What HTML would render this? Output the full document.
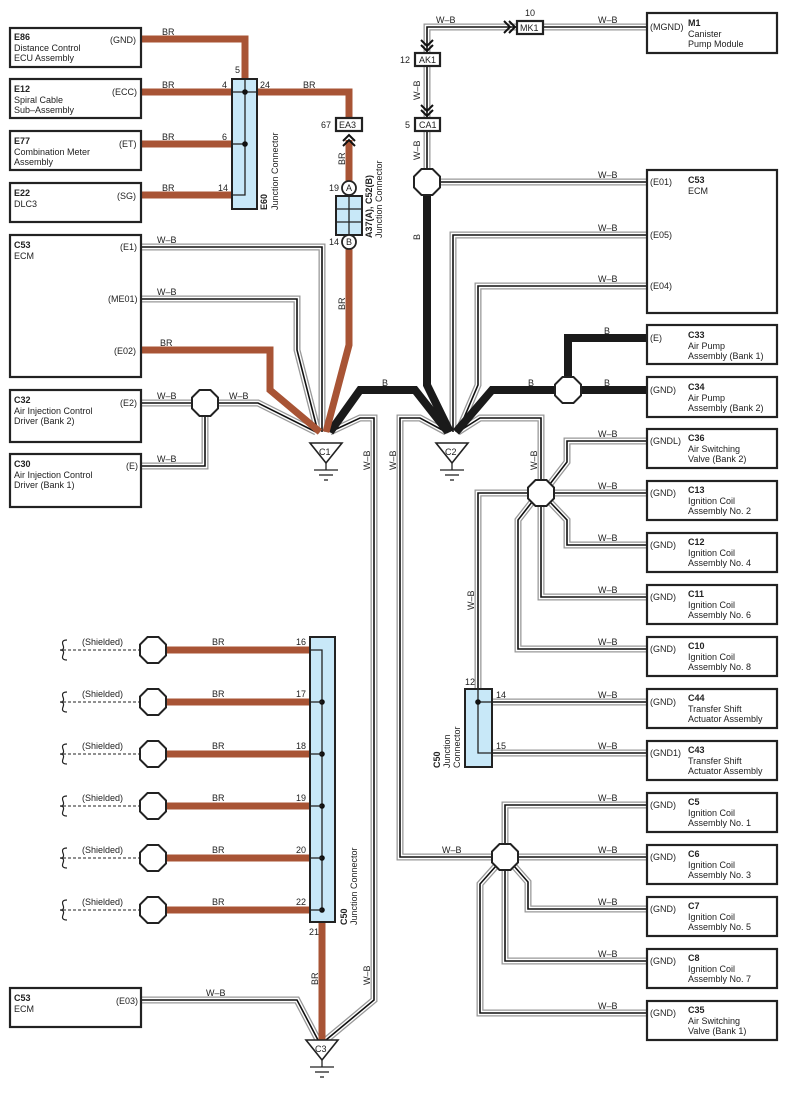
<!DOCTYPE html>
<html><head><meta charset="utf-8"><style>
html,body{margin:0;padding:0;background:#fff}
svg{display:block}
text{font-family:"Liberation Sans",sans-serif;font-size:9px;fill:#222}
.b{font-weight:bold}
.box{fill:#fff;stroke:#222;stroke-width:2.2}
.g1{fill:none;stroke:#999;stroke-width:7;stroke-linejoin:miter}
.g2{fill:none;stroke:#fff;stroke-width:4.4}
.g3{fill:none;stroke:#111;stroke-width:1.6}
.br{fill:none;stroke:#a85435;stroke-width:7}
.bk{fill:none;stroke:#1a1a1a;stroke-width:8}
.oct{fill:#fff;stroke:#222;stroke-width:2}
.jc{fill:#c8e8f8;stroke:#222;stroke-width:2}
.ln{fill:none;stroke:#222;stroke-width:1.3}
</style></head><body>
<svg width="787" height="1093" viewBox="0 0 787 1093" xmlns="http://www.w3.org/2000/svg">
<defs>
<polygon id="oc" points="-5.5,-13 5.5,-13 13,-5.5 13,5.5 5.5,13 -5.5,13 -13,5.5 -13,-5.5"/>
<g id="gnd"><polygon points="-16,0 16,0 0,20" fill="#fff" stroke="#222" stroke-width="1.6"/><line x1="0" y1="20" x2="0" y2="27" stroke="#222" stroke-width="1.3"/><line x1="-12" y1="27" x2="12" y2="27" stroke="#222" stroke-width="1.3"/><line x1="-7" y1="32" x2="7" y2="32" stroke="#222" stroke-width="1.3"/><line x1="-2" y1="37" x2="2" y2="37" stroke="#222" stroke-width="1.3"/></g>
<g id="wires">
<polyline points="141,247 322,247 322,432"/>
<polyline points="141,299 297,299 297,350 318,432"/>
<polyline points="141,403 192,403"/>
<polyline points="218,403 258,403 316,432"/>
<polyline points="141,466 205,466 205,416"/>
<polyline points="330,432 360,418 374,418 374,1000 326,1040"/>
<polyline points="141,1000 297,1000 318,1040"/>
<polyline points="446,432 420,418 400,418 400,857 492,857"/>
<polyline points="458,432 480,418 541,418 541,480"/>
<polyline points="648,235 453,235 453,432"/>
<polyline points="648,286 478,286 478,385 458,432"/>
<polyline points="427,130 427,169"/>
<polyline points="440,182 648,182"/>
<polyline points="427,53 427,27 517,27"/>
<polyline points="543,27 648,27"/>
<polyline points="427,65 427,118"/>
<polyline points="550,484 567,462 567,441 648,441"/>
<polyline points="554,493 648,493"/>
<polyline points="550,502 567,520 567,545 648,545"/>
<polyline points="541,506 541,597 648,597"/>
<polyline points="532,502 518,520 518,649 648,649"/>
<polyline points="528,493 478,493 478,689"/>
<polyline points="492,702 648,702"/>
<polyline points="492,753 648,753"/>
<polyline points="505,844 505,805 648,805"/>
<polyline points="518,857 648,857"/>
<polyline points="514,866 528,882 528,909 648,909"/>
<polyline points="505,870 505,961 648,961"/>
<polyline points="496,866 480,884 480,1013 648,1013"/>
</g>
</defs>
<use href="#wires" class="g1"/>
<use href="#wires" class="g2"/>
<use href="#wires" class="g3"/>

<!-- black B -->
<polyline class="bk" points="427,195 427,385 450,432"/>
<polyline class="bk" points="330,432 360,390 415,390 448,432"/>
<polyline class="bk" points="648,390 492,390 456,432"/>
<polyline class="bk" points="648,338 568,338 568,380"/>

<!-- brown -->
<polyline class="br" points="141,39 245,39 245,80"/>
<polyline class="br" points="141,92 232,92"/>
<polyline class="br" points="141,144 232,144"/>
<polyline class="br" points="141,195 232,195"/>
<polyline class="br" points="257,92 349,92 349,118"/>
<polyline class="br" points="349,140 349,181"/>
<polyline class="br" points="349,246 349,345 326,432"/>
<polyline class="br" points="141,350 270,350 270,390 320,432"/>
<polyline class="br" points="166,650 310,650"/><polyline class="br" points="166,702 310,702"/>
<polyline class="br" points="166,754 310,754"/><polyline class="br" points="166,806 310,806"/>
<polyline class="br" points="166,858 310,858"/><polyline class="br" points="166,910 310,910"/>
<polyline class="br" points="322,922 322,1040"/>

<!-- chevrons -->
<g fill="none" stroke="#111" stroke-width="2">
<polyline points="421,40 427,46 433,40"/><polyline points="421,45 427,51 433,45"/>
<polyline points="421,105 427,111 433,105"/><polyline points="421,110 427,116 433,110"/>
<polyline points="504,21 510,27 504,33"/><polyline points="509,21 515,27 509,33"/>
<polyline points="343,141 349,135 355,141"/><polyline points="343,146 349,140 355,146"/>
</g>

<!-- connector boxes -->
<rect x="415" y="53" width="25" height="13" class="box" stroke-width="1.8"/><text x="419" y="63">AK1</text><text x="400" y="63">12</text>
<rect x="415" y="118" width="25" height="13" class="box" stroke-width="1.8"/><text x="419" y="128">CA1</text><text x="405" y="128">5</text>
<rect x="517" y="21" width="26" height="13" class="box" stroke-width="1.8"/><text x="520" y="31">MK1</text><text x="525" y="16">10</text>
<rect x="336" y="118" width="26" height="13" class="box" stroke-width="1.8"/><text x="339" y="128">EA3</text><text x="321" y="128">67</text>

<!-- E60 -->
<rect x="232" y="79" width="25" height="130" class="jc"/>
<polyline class="ln" points="245,79 245,195 232,195"/>
<line class="ln" x1="232" y1="92" x2="257" y2="92"/><line class="ln" x1="232" y1="144" x2="245" y2="144"/>
<circle cx="245" cy="92" r="2.8" fill="#111"/><circle cx="245" cy="144" r="2.8" fill="#111"/>
<text x="235" y="73">5</text><text x="222" y="88">4</text><text x="260" y="88">24</text><text x="222" y="140">6</text><text x="218" y="191">14</text>
<text transform="translate(267,210) rotate(-90)" class="b">E60</text>
<text transform="translate(278,210) rotate(-90)">Junction Connector</text>

<!-- A37 -->
<rect x="336" y="196" width="26" height="39" class="jc"/>
<line class="ln" x1="349" y1="196" x2="349" y2="235"/><line class="ln" x1="336" y1="209" x2="362" y2="209"/><line class="ln" x1="336" y1="222" x2="362" y2="222"/>
<circle cx="349" cy="188" r="7" fill="#fff" stroke="#222" stroke-width="1.8"/><text x="346" y="191">A</text>
<circle cx="349" cy="242" r="7" fill="#fff" stroke="#222" stroke-width="1.8"/><text x="346" y="245">B</text>
<text x="329" y="191">19</text><text x="329" y="245">14</text>
<text transform="translate(372,238) rotate(-90)" class="b">A37(A), C52(B)</text>
<text transform="translate(382,238) rotate(-90)">Junction Connector</text>

<!-- bottom C50 -->
<rect x="310" y="637" width="25" height="285" class="jc"/>
<polyline class="ln" points="310,650 322,650 322,910"/>
<g fill="#111"><circle cx="322" cy="702" r="2.8"/><circle cx="322" cy="754" r="2.8"/><circle cx="322" cy="806" r="2.8"/><circle cx="322" cy="858" r="2.8"/><circle cx="322" cy="910" r="2.8"/></g>
<g class="ln"><line x1="310" y1="702" x2="322" y2="702"/><line x1="310" y1="754" x2="322" y2="754"/><line x1="310" y1="806" x2="322" y2="806"/><line x1="310" y1="858" x2="322" y2="858"/><line x1="310" y1="910" x2="322" y2="910"/></g>
<text x="296" y="645">16</text><text x="296" y="697">17</text><text x="296" y="749">18</text><text x="296" y="801">19</text><text x="296" y="853">20</text><text x="296" y="905">22</text><text x="309" y="935">21</text>
<text transform="translate(347,925) rotate(-90)" class="b">C50</text>
<text transform="translate(357,925) rotate(-90)">Junction Connector</text>

<!-- shielded rows -->
<g>
<g transform="translate(0,650)"><path d="M67,-10 q-6,0 -4,5 q2,5 -3,5 q5,0 3,5 q-2,5 4,5" fill="none" stroke="#222" stroke-width="1.2"/><line x1="63" y1="0" x2="140" y2="0" stroke="#222" stroke-dasharray="3,2"/><text x="82" y="-5">(Shielded)</text><text x="212" y="-5">BR</text><use href="#oc" x="153" class="oct"/></g>
<g transform="translate(0,702)"><path d="M67,-10 q-6,0 -4,5 q2,5 -3,5 q5,0 3,5 q-2,5 4,5" fill="none" stroke="#222" stroke-width="1.2"/><line x1="63" y1="0" x2="140" y2="0" stroke="#222" stroke-dasharray="3,2"/><text x="82" y="-5">(Shielded)</text><text x="212" y="-5">BR</text><use href="#oc" x="153" class="oct"/></g>
<g transform="translate(0,754)"><path d="M67,-10 q-6,0 -4,5 q2,5 -3,5 q5,0 3,5 q-2,5 4,5" fill="none" stroke="#222" stroke-width="1.2"/><line x1="63" y1="0" x2="140" y2="0" stroke="#222" stroke-dasharray="3,2"/><text x="82" y="-5">(Shielded)</text><text x="212" y="-5">BR</text><use href="#oc" x="153" class="oct"/></g>
<g transform="translate(0,806)"><path d="M67,-10 q-6,0 -4,5 q2,5 -3,5 q5,0 3,5 q-2,5 4,5" fill="none" stroke="#222" stroke-width="1.2"/><line x1="63" y1="0" x2="140" y2="0" stroke="#222" stroke-dasharray="3,2"/><text x="82" y="-5">(Shielded)</text><text x="212" y="-5">BR</text><use href="#oc" x="153" class="oct"/></g>
<g transform="translate(0,858)"><path d="M67,-10 q-6,0 -4,5 q2,5 -3,5 q5,0 3,5 q-2,5 4,5" fill="none" stroke="#222" stroke-width="1.2"/><line x1="63" y1="0" x2="140" y2="0" stroke="#222" stroke-dasharray="3,2"/><text x="82" y="-5">(Shielded)</text><text x="212" y="-5">BR</text><use href="#oc" x="153" class="oct"/></g>
<g transform="translate(0,910)"><path d="M67,-10 q-6,0 -4,5 q2,5 -3,5 q5,0 3,5 q-2,5 4,5" fill="none" stroke="#222" stroke-width="1.2"/><line x1="63" y1="0" x2="140" y2="0" stroke="#222" stroke-dasharray="3,2"/><text x="82" y="-5">(Shielded)</text><text x="212" y="-5">BR</text><use href="#oc" x="153" class="oct"/></g>
</g>

<!-- right C50 -->
<rect x="465" y="689" width="27" height="78" class="jc"/>
<polyline class="ln" points="478,689 478,753 492,753"/><line class="ln" x1="478" y1="702" x2="492" y2="702"/>
<circle cx="478" cy="702" r="2.8" fill="#111"/>
<text x="465" y="685">12</text><text x="496" y="698">14</text><text x="496" y="749">15</text>
<text transform="translate(440,768) rotate(-90)" class="b">C50</text>
<text transform="translate(450,768) rotate(-90)">Junction</text>
<text transform="translate(460,768) rotate(-90)">Connector</text>

<!-- octagons -->
<use href="#oc" x="205" y="403" class="oct"/>
<use href="#oc" x="427" y="182" class="oct"/>
<use href="#oc" x="568" y="390" class="oct"/>
<use href="#oc" x="541" y="493" class="oct"/>
<use href="#oc" x="505" y="857" class="oct"/>

<!-- grounds -->
<use href="#gnd" x="326" y="443"/><text x="319" y="455">C1</text>
<use href="#gnd" x="452" y="443"/><text x="445" y="455">C2</text>
<use href="#gnd" x="322" y="1040"/><text x="315" y="1052">C3</text>

<!-- wire labels -->
<text x="162" y="35">BR</text><text x="162" y="88">BR</text><text x="162" y="140">BR</text><text x="162" y="191">BR</text><text x="303" y="88">BR</text>
<text x="157" y="243">W–B</text><text x="157" y="295">W–B</text><text x="160" y="346">BR</text>
<text x="157" y="399">W–B</text><text x="229" y="399">W–B</text><text x="157" y="462">W–B</text>
<text x="382" y="386">B</text><text x="206" y="996">W–B</text>
<text x="436" y="23">W–B</text><text x="598" y="23">W–B</text>
<text x="598" y="178">W–B</text><text x="598" y="231">W–B</text><text x="598" y="282">W–B</text>
<text x="604" y="334">B</text><text x="528" y="386">B</text><text x="604" y="386">B</text>
<text x="598" y="437">W–B</text><text x="598" y="489">W–B</text><text x="598" y="541">W–B</text><text x="598" y="593">W–B</text><text x="598" y="645">W–B</text><text x="598" y="698">W–B</text><text x="598" y="749">W–B</text>
<text x="598" y="801">W–B</text><text x="598" y="853">W–B</text><text x="598" y="905">W–B</text><text x="598" y="957">W–B</text><text x="598" y="1009">W–B</text>
<text x="442" y="853">W–B</text>
<g>
<text transform="translate(345,165) rotate(-90)">BR</text>
<text transform="translate(345,310) rotate(-90)">BR</text>
<text transform="translate(420,100) rotate(-90)">W–B</text>
<text transform="translate(420,160) rotate(-90)">W–B</text>
<text transform="translate(420,240) rotate(-90)">B</text>
<text transform="translate(370,470) rotate(-90)">W–B</text>
<text transform="translate(396,470) rotate(-90)">W–B</text>
<text transform="translate(537,470) rotate(-90)">W–B</text>
<text transform="translate(474,610) rotate(-90)">W–B</text>
<text transform="translate(318,985) rotate(-90)">BR</text>
<text transform="translate(370,985) rotate(-90)">W–B</text>
</g>

<!-- left boxes -->
<rect x="10" y="28" width="131" height="39" class="box"/><text x="14" y="40" class="b">E86</text><text x="14" y="51">Distance Control</text><text x="14" y="61">ECU Assembly</text><text x="110" y="43">(GND)</text>
<rect x="10" y="79" width="131" height="39" class="box"/><text x="14" y="92" class="b">E12</text><text x="14" y="103">Spiral Cable</text><text x="14" y="113">Sub–Assembly</text><text x="112" y="95">(ECC)</text>
<rect x="10" y="131" width="131" height="39" class="box"/><text x="14" y="144" class="b">E77</text><text x="14" y="155">Combination Meter</text><text x="14" y="165">Assembly</text><text x="119" y="147">(ET)</text>
<rect x="10" y="183" width="131" height="39" class="box"/><text x="14" y="196" class="b">E22</text><text x="14" y="207">DLC3</text><text x="117" y="199">(SG)</text>
<rect x="10" y="235" width="131" height="142" class="box"/><text x="14" y="248" class="b">C53</text><text x="14" y="259">ECM</text><text x="120" y="250">(E1)</text><text x="108" y="302">(ME01)</text><text x="114" y="354">(E02)</text>
<rect x="10" y="390" width="131" height="52" class="box"/><text x="14" y="403" class="b">C32</text><text x="14" y="414">Air Injection Control</text><text x="14" y="424">Driver (Bank 2)</text><text x="120" y="406">(E2)</text>
<rect x="10" y="454" width="131" height="53" class="box"/><text x="14" y="467" class="b">C30</text><text x="14" y="478">Air Injection Control</text><text x="14" y="488">Driver (Bank 1)</text><text x="126" y="469">(E)</text>
<rect x="10" y="988" width="131" height="39" class="box"/><text x="14" y="1001" class="b">C53</text><text x="14" y="1012">ECM</text><text x="116" y="1004">(E03)</text>

<!-- right boxes -->
<rect x="647" y="13" width="130" height="40" class="box"/><text x="650" y="30">(MGND)</text><text x="688" y="26" class="b">M1</text><text x="688" y="37">Canister</text><text x="688" y="47">Pump Module</text>
<rect x="647" y="170" width="130" height="143" class="box"/><text x="650" y="185">(E01)</text><text x="688" y="183" class="b">C53</text><text x="688" y="194">ECM</text><text x="650" y="238">(E05)</text><text x="650" y="289">(E04)</text>
<rect x="647" y="325" width="130" height="39" class="box"/><text x="650" y="341">(E)</text><text x="688" y="338" class="b">C33</text><text x="688" y="349">Air Pump</text><text x="688" y="359">Assembly (Bank 1)</text>
<rect x="647" y="377" width="130" height="40" class="box"/><text x="650" y="393">(GND)</text><text x="688" y="390" class="b">C34</text><text x="688" y="401">Air Pump</text><text x="688" y="411">Assembly (Bank 2)</text>
<rect x="647" y="429" width="130" height="39" class="box"/><text x="650" y="444">(GNDL)</text><text x="688" y="441" class="b">C36</text><text x="688" y="452">Air Switching</text><text x="688" y="462">Valve (Bank 2)</text>
<rect x="647" y="481" width="130" height="39" class="box"/><text x="650" y="496">(GND)</text><text x="688" y="493" class="b">C13</text><text x="688" y="504">Ignition Coil</text><text x="688" y="514">Assembly No. 2</text>
<rect x="647" y="533" width="130" height="39" class="box"/><text x="650" y="548">(GND)</text><text x="688" y="545" class="b">C12</text><text x="688" y="556">Ignition Coil</text><text x="688" y="566">Assembly No. 4</text>
<rect x="647" y="585" width="130" height="39" class="box"/><text x="650" y="600">(GND)</text><text x="688" y="597" class="b">C11</text><text x="688" y="608">Ignition Coil</text><text x="688" y="618">Assembly No. 6</text>
<rect x="647" y="637" width="130" height="39" class="box"/><text x="650" y="652">(GND)</text><text x="688" y="649" class="b">C10</text><text x="688" y="660">Ignition Coil</text><text x="688" y="670">Assembly No. 8</text>
<rect x="647" y="689" width="130" height="39" class="box"/><text x="650" y="705">(GND)</text><text x="688" y="701" class="b">C44</text><text x="688" y="712">Transfer Shift</text><text x="688" y="722">Actuator Assembly</text>
<rect x="647" y="741" width="130" height="39" class="box"/><text x="650" y="756">(GND1)</text><text x="688" y="753" class="b">C43</text><text x="688" y="764">Transfer Shift</text><text x="688" y="774">Actuator Assembly</text>
<rect x="647" y="793" width="130" height="39" class="box"/><text x="650" y="808">(GND)</text><text x="688" y="805" class="b">C5</text><text x="688" y="816">Ignition Coil</text><text x="688" y="826">Assembly No. 1</text>
<rect x="647" y="845" width="130" height="39" class="box"/><text x="650" y="860">(GND)</text><text x="688" y="857" class="b">C6</text><text x="688" y="868">Ignition Coil</text><text x="688" y="878">Assembly No. 3</text>
<rect x="647" y="897" width="130" height="39" class="box"/><text x="650" y="912">(GND)</text><text x="688" y="909" class="b">C7</text><text x="688" y="920">Ignition Coil</text><text x="688" y="930">Assembly No. 5</text>
<rect x="647" y="949" width="130" height="39" class="box"/><text x="650" y="964">(GND)</text><text x="688" y="961" class="b">C8</text><text x="688" y="972">Ignition Coil</text><text x="688" y="982">Assembly No. 7</text>
<rect x="647" y="1001" width="130" height="39" class="box"/><text x="650" y="1016">(GND)</text><text x="688" y="1013" class="b">C35</text><text x="688" y="1024">Air Switching</text><text x="688" y="1034">Valve (Bank 1)</text>
</svg>
</body></html>
